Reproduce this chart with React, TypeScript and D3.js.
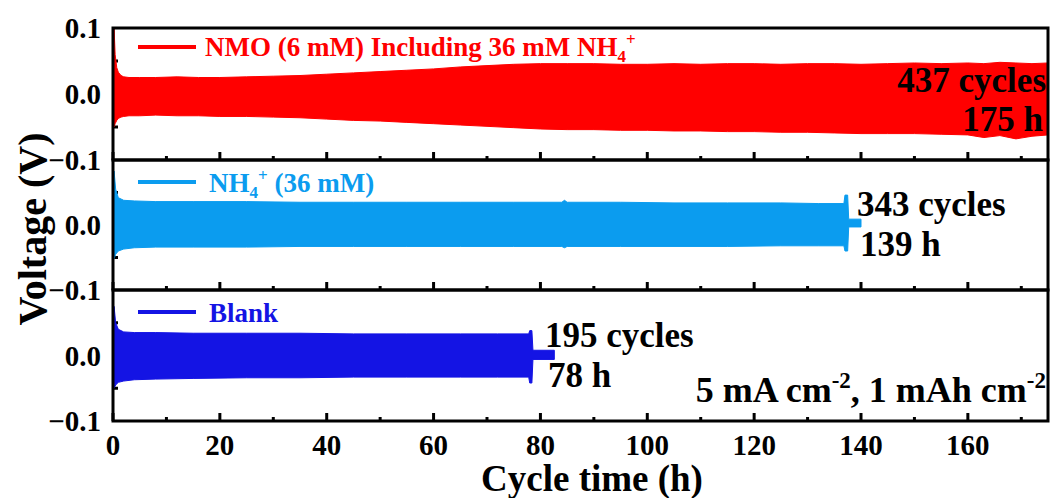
import React from "react";
import * as d3 from "d3";

// x axis
const xMajor = [0, 20, 40, 60, 80, 100, 120, 140, 160];
const xMinor = [10, 30, 50, 70, 90, 110, 130, 150, 170];

// NMO (6 mM) including 36 mM NH4+  -- envelope of the voltage band
const redT = [0, 0.2, 0.4, 0.7, 1, 1.5, 2, 3, 5, 8, 12, 16, 20, 25, 30, 35, 40, 45, 50, 55, 60, 65, 70, 75, 80, 85, 90, 95, 100, 105, 110, 115, 120, 125, 130, 135, 140, 145, 150, 155, 160, 163, 166, 169, 172, 175];
const redHi = [0.005, 0.1, 0.06, 0.04, 0.033, 0.028, 0.026, 0.025, 0.025, 0.025, 0.026, 0.025, 0.025, 0.026, 0.027, 0.028, 0.03, 0.032, 0.034, 0.036, 0.038, 0.041, 0.043, 0.045, 0.046, 0.046, 0.046, 0.045, 0.045, 0.046, 0.045, 0.046, 0.046, 0.045, 0.046, 0.046, 0.045, 0.046, 0.047, 0.046, 0.047, 0.046, 0.048, 0.047, 0.046, 0.047];
const redLo = [-0.005, -0.05, -0.045, -0.04, -0.037, -0.035, -0.034, -0.033, -0.033, -0.032, -0.033, -0.033, -0.034, -0.034, -0.035, -0.036, -0.038, -0.04, -0.041, -0.043, -0.045, -0.047, -0.049, -0.051, -0.053, -0.054, -0.054, -0.055, -0.055, -0.056, -0.056, -0.057, -0.057, -0.058, -0.058, -0.059, -0.06, -0.06, -0.06, -0.061, -0.062, -0.066, -0.063, -0.068, -0.064, -0.062];

// NH4+ (36 mM)
const skyT = [0, 0.2, 0.5, 1, 2, 4, 8, 15, 25, 35, 45, 55, 65, 75, 84, 84.5, 85, 95, 105, 115, 125, 132, 136.8, 137, 137.5, 137.7, 140];
const skyHi = [0.01, 0.083, 0.055, 0.042, 0.038, 0.037, 0.036, 0.036, 0.036, 0.035, 0.035, 0.035, 0.035, 0.035, 0.035, 0.038, 0.035, 0.035, 0.034, 0.034, 0.034, 0.033, 0.033, 0.046, 0.046, 0.009, 0.009];
const skyLo = [-0.01, -0.052, -0.045, -0.04, -0.037, -0.035, -0.034, -0.034, -0.034, -0.033, -0.033, -0.033, -0.033, -0.033, -0.033, -0.035, -0.033, -0.033, -0.033, -0.033, -0.032, -0.032, -0.032, -0.04, -0.04, -0.003, -0.003];

// Blank
const blueT = [0, 0.2, 0.5, 1, 2, 4, 8, 15, 25, 35, 45, 55, 65, 72, 77.8, 78, 78.4, 78.6, 82.6];
const blueHi = [0.01, 0.075, 0.05, 0.04, 0.036, 0.035, 0.035, 0.034, 0.034, 0.034, 0.033, 0.033, 0.033, 0.033, 0.033, 0.038, 0.038, 0.008, 0.008];
const blueLo = [-0.01, -0.05, -0.045, -0.041, -0.039, -0.037, -0.036, -0.035, -0.034, -0.034, -0.033, -0.033, -0.033, -0.033, -0.033, -0.042, -0.042, -0.006, -0.006];

const FONT = "'Liberation Serif', 'Times New Roman', serif";

const App = () => {
  const svgRef = React.useRef(null);
  const width = 1052;
  const height = 498;

  React.useEffect(() => {
    const svg = d3.select(svgRef.current);
    svg.selectAll("*").remove();

    const left = 113;
    const right = 1048;
    const xScale = d3.scaleLinear().domain([0, 175]).range([left, right]);

    const panels = [
      { top: 28, bottom: 160, t: redT, hi: redHi, lo: redLo, color: "#ff0000", labels: [0.1, 0, -0.1] },
      { top: 160, bottom: 290, t: skyT, hi: skyHi, lo: skyLo, color: "#0b9cef", labels: [0, -0.1] },
      { top: 290, bottom: 421, t: blueT, hi: blueHi, lo: blueLo, color: "#1414e4", labels: [0, -0.1] },
    ];

    panels.forEach((p, i) => {
      const yScale = d3.scaleLinear().domain([-0.1, 0.1]).range([p.bottom, p.top]);
      const g = svg.append("g");

      // inward ticks
      xMajor.forEach((v) => {
        g.append("line").attr("x1", xScale(v)).attr("x2", xScale(v))
          .attr("y1", p.bottom).attr("y2", p.bottom - 8)
          .attr("stroke", "#000").attr("stroke-width", 3);
      });
      xMinor.forEach((v) => {
        g.append("line").attr("x1", xScale(v)).attr("x2", xScale(v))
          .attr("y1", p.bottom).attr("y2", p.bottom - 4)
          .attr("stroke", "#000").attr("stroke-width", 3);
      });
      [-0.05, 0.05].forEach((v) => {
        g.append("line").attr("x1", left).attr("x2", left + 5)
          .attr("y1", yScale(v)).attr("y2", yScale(v))
          .attr("stroke", "#000").attr("stroke-width", 3);
      });

      // voltage band
      const area = d3.area<number>()
        .x((d, k) => xScale(p.t[k]))
        .y0((d, k) => yScale(p.lo[k]))
        .y1((d, k) => yScale(p.hi[k]));
      g.append("path").datum(p.hi).attr("d", area).attr("fill", p.color)
        .attr("stroke", p.color).attr("stroke-width", 1);

      // frame
      g.append("rect").attr("x", left).attr("y", p.top)
        .attr("width", right - left).attr("height", p.bottom - p.top)
        .attr("fill", "none").attr("stroke", "#000").attr("stroke-width", 3);

      // y tick labels
      p.labels.forEach((v) => {
        g.append("text").attr("x", 101).attr("y", yScale(v) + 10)
          .attr("text-anchor", "end").attr("font-family", FONT)
          .attr("font-weight", "bold").attr("font-size", 29)
          .text(v === 0 ? "0.0" : d3.format(".1f")(v));
      });

      // legend sample line
      const ly = p.top + (i === 0 ? 19 : 22);
      g.append("line").attr("x1", 138).attr("x2", 196).attr("y1", ly).attr("y2", ly)
        .attr("stroke", p.color).attr("stroke-width", 4);
    });

    const txt = (x: number, y: number, size: number, color: string, anchor = "start") =>
      svg.append("text").attr("x", x).attr("y", y).attr("font-family", FONT)
        .attr("font-weight", "bold").attr("font-size", size).attr("fill", color)
        .attr("text-anchor", anchor);

    // legends
    const l1 = txt(205, 56, 27, "#ff0000");
    l1.append("tspan").text("NMO (6 mM) Including 36 mM NH");
    l1.append("tspan").attr("font-size", 17).attr("dy", 6).text("4");
    l1.append("tspan").attr("font-size", 17).attr("dy", -17).text("+");

    const l2 = txt(209, 192, 27, "#0b9cef");
    l2.append("tspan").text("NH");
    l2.append("tspan").attr("font-size", 17).attr("dy", 6).text("4");
    l2.append("tspan").attr("font-size", 17).attr("dy", -17).text("+");
    l2.append("tspan").attr("dy", 11).text(" (36 mM)");

    txt(209, 322, 27, "#1414e4").text("Blank");

    // annotations
    txt(1046, 92, 35, "#000", "end").text("437 cycles");
    txt(1043, 131, 35, "#000", "end").text("175 h");
    txt(857, 216, 35, "#000").text("343 cycles");
    txt(860, 256, 35, "#000").text("139 h");
    txt(545, 347, 35, "#000").text("195 cycles");
    txt(548, 387, 35, "#000").text("78 h");

    const cond = txt(1046, 402, 36, "#000", "end");
    cond.append("tspan").text("5 mA cm");
    cond.append("tspan").attr("font-size", 23).attr("dy", -14).text("-2");
    cond.append("tspan").attr("dy", 14).text(", 1 mAh cm");
    cond.append("tspan").attr("font-size", 23).attr("dy", -14).text("-2");

    // x tick labels
    const lastPanel = panels[panels.length - 1];
    xMajor.forEach((v) => {
      txt(xScale(v), lastPanel.bottom + 34, 29, "#000", "middle").text(String(v));
    });

    // axis titles
    txt(592, 491, 37, "#000", "middle").text("Cycle time (h)");
    txt(0, 0, 40, "#000", "middle")
      .attr("transform", `translate(46,229) rotate(-90)`)
      .text("Voltage (V)");
  }, []);

  return (
    <svg
      ref={svgRef}
      width={width}
      height={height}
      style={{ position: "absolute", left: 0, top: 0, background: "#fff" }}
    />
  );
};

export default App;
